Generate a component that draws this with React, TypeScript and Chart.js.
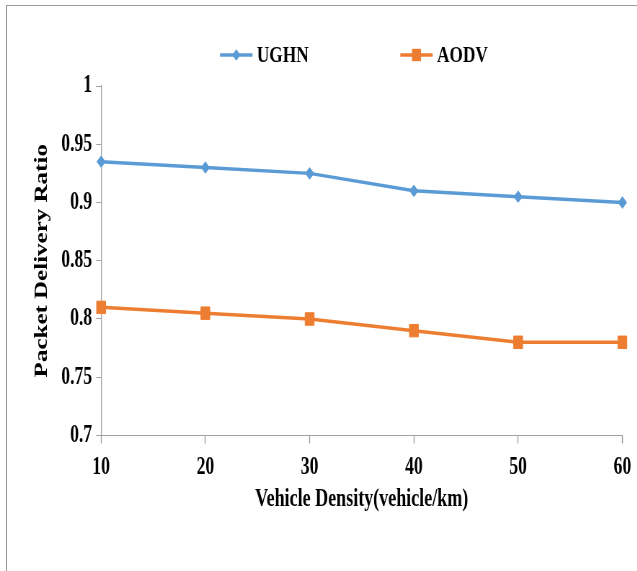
import React, { useEffect, useRef } from 'react';
import { Chart, registerables } from 'chart.js';

Chart.register(...registerables);

// ---- data ----
const categories = ['10', '20', '30', '40', '50', '60'];
const ughnValues = [0.935, 0.93, 0.925, 0.91, 0.905, 0.9];
const aodvValues = [0.81, 0.805, 0.8, 0.79, 0.78, 0.78];
const seriesNames = ['UGHN', 'AODV'];
const yTickValues = [0.7, 0.75, 0.8, 0.85, 0.9, 0.95, 1];
const yTickLabels = ['0.7', '0.75', '0.8', '0.85', '0.9', '0.95', '1'];
const xTitle = 'Vehicle Density(vehicle/km)';
const yTitle = 'Packet Delivery Ratio';

// ---- layout / style ----
const SX = 0.72; // the reference is horizontally condensed
const W = 637 / SX;
const H = 571;
const FONT = '"Liberation Serif", "Times New Roman", serif';
const AXIS = '#a0a0a0';
const BLUE = '#5B9BD5';
const ORANGE = '#ED7D31';

function drawMarker(ctx: CanvasRenderingContext2D, style: string, x: number, y: number, r: number) {
  ctx.beginPath();
  if (style === 'rectRot') {
    ctx.moveTo(x - r, y);
    ctx.lineTo(x, y - r);
    ctx.lineTo(x + r, y);
    ctx.lineTo(x, y + r);
    ctx.closePath();
  } else {
    const s = Math.SQRT1_2 * r;
    ctx.rect(x - s, y - s, 2 * s, 2 * s);
  }
  ctx.fill();
}

const lineLegend = {
  id: 'lineLegend',
  afterDraw(chart: any) {
    const ctx: CanvasRenderingContext2D = chart.ctx;
    const { left } = chart.chartArea;
    let x = left + 165;
    const y = 55;
    ctx.save();
    ctx.font = `bold 24px ${FONT}`;
    ctx.textBaseline = 'middle';
    ctx.textAlign = 'left';
    chart.data.datasets.forEach((ds: any) => {
      ctx.strokeStyle = ds.borderColor;
      ctx.fillStyle = ds.borderColor;
      ctx.lineWidth = ds.borderWidth;
      ctx.beginPath();
      ctx.moveTo(x, y);
      ctx.lineTo(x + 45, y);
      ctx.stroke();
      drawMarker(ctx, ds.pointStyle, x + 22.5, y, ds.pointRadius);
      ctx.fillStyle = '#000';
      ctx.fillText(ds.label, x + 51, y + 1);
      const tw = ctx.measureText(ds.label).width;
      x += 51 + tw + 127;
    });
    ctx.restore();
  },
};

export default function App() {
  const ref = useRef<HTMLCanvasElement>(null);

  useEffect(() => {
    document.documentElement.style.overflow = 'hidden';
    document.body.style.margin = '0';
    const tickFont = { family: FONT, size: 24.5, weight: 'bold' as const };
    const titleFont = { family: FONT, size: 25, weight: 'bold' as const };
    const ax = (v: number) => v / SX;
    const chart = new Chart(ref.current!, {
      type: 'line',
      data: {
        labels: categories,
        datasets: [
          {
            label: seriesNames[0],
            data: ughnValues,
            borderColor: BLUE,
            backgroundColor: BLUE,
            borderWidth: 3.5,
            pointStyle: 'rectRot',
            pointRadius: 5.8,
            pointBorderWidth: 1,
            tension: 0,
          },
          {
            label: seriesNames[1],
            data: aodvValues,
            borderColor: ORANGE,
            backgroundColor: ORANGE,
            borderWidth: 3.5,
            pointStyle: 'rect',
            pointRadius: 8.8,
            pointBorderWidth: 1,
            tension: 0,
          },
        ],
      },
      options: {
        responsive: true,
        maintainAspectRatio: false,
        animation: false,
        layout: { padding: { top: 86, right: W - ax(622), left: 0, bottom: 0 } },
        plugins: { legend: { display: false }, tooltip: { enabled: false } },
        scales: {
          x: {
            type: 'category',
            offset: false,
            grid: { drawOnChartArea: false, drawTicks: true, tickLength: 8, tickColor: AXIS, tickWidth: 1.38 },
            border: { display: true, color: AXIS, width: 1 },
            ticks: { color: '#000', font: tickFont, padding: 9, maxRotation: 0, autoSkip: false },
            title: { display: true, text: xTitle, color: '#000', font: titleFont, padding: { top: 0, bottom: 56 } },
            afterFit: (s: any) => { s.height = 135.5; },
          },
          y: {
            type: 'linear',
            min: 0.7,
            max: 1,
            afterBuildTicks: (s: any) => { s.ticks = yTickValues.map((v) => ({ value: v })); },
            ticks: { color: '#000', font: tickFont, padding: ax(4), callback: (_v: any, i: number) => yTickLabels[i] },
            grid: { drawOnChartArea: false, drawTicks: true, tickLength: ax(5), tickColor: AXIS, tickWidth: 1 },
            border: { display: true, color: AXIS, width: 1.38 },
            title: { display: true, text: yTitle, color: '#000', font: titleFont, padding: { top: ax(42.5) - 15, bottom: 0 } },
            afterFit: (s: any) => { s.width = ax(101); },
          },
        },
      },
      plugins: [lineLegend],
    });
    return () => chart.destroy();
  }, []);

  return (
    <div>
      <div style={{ position: 'fixed', left: 0, top: 0, width: 637, height: 571, background: '#fff' }} />
      <div
        style={{
          position: 'fixed',
          left: 6,
          top: 5,
          width: 700,
          height: 700,
          borderTop: '1px solid #9a9a9a',
          borderLeft: '1px solid #9a9a9a',
        }}
      />
      <div
        style={{
          position: 'fixed',
          left: 0,
          top: 0,
          width: W,
          height: H,
          transform: `scaleX(${SX})`,
          transformOrigin: '0 0',
        }}
      >
        <canvas ref={ref} />
      </div>
    </div>
  );
}
